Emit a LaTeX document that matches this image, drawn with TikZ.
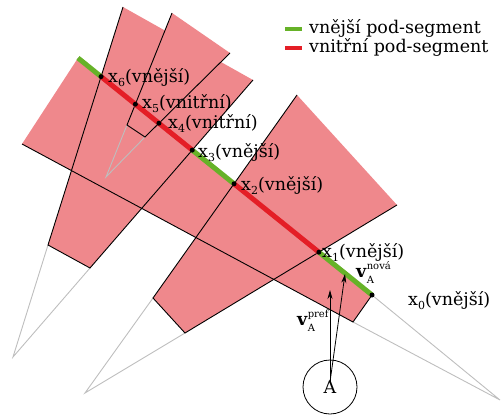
\documentclass[tikz,border=0pt]{standalone}
\usepackage{fontspec}
\setmainfont{DejaVu Serif}
\usetikzlibrary{arrows.meta,calc}
\definecolor{conepink}{RGB}{239,136,140}
\definecolor{segred}{RGB}{228,30,38}
\definecolor{seggreen}{RGB}{102,178,40}
\definecolor{apexgrey}{RGB}{190,190,190}
\newcommand\xsub[2]{x\raisebox{-0.55ex}{\fontsize{11}{11}\selectfont #1}(#2)}
\newcommand\vlab[1]{\textbf{v}\makebox[0pt][l]{\raisebox{0.85ex}{\fontsize{10}{10}\selectfont #1}}\raisebox{-0.7ex}{\fontsize{10}{10}\selectfont A}}
\begin{document}
\begin{tikzpicture}[x=1pt,y=-1pt,
  font=\fontsize{17.5}{21}\selectfont,
  cone/.style={fill=conepink, draw=none},
  side/.style={draw=black, line width=0.9pt, line join=miter},
  ray/.style={draw=apexgrey, line width=0.9pt},
  seg/.style={line width=5pt},
  dot/.style={circle, fill=black, inner sep=0pt, minimum size=5pt},
  lbl/.style={anchor=base west, inner sep=0pt},
  vec/.style={-{Stealth[length=9pt,width=5pt]}, line width=0.8pt}]
\useasboundingbox (0,0) rectangle (501,415);

% cone 1
\coordinate (c1apex) at (500,400);
\coordinate (c1na) at (372,295);
\coordinate (c1nb) at (353,322);
\coordinate (c1fa) at (78,58);
\coordinate (c1fb) at (22,144);
% cone 2
\coordinate (c2apex) at (13,357);
\coordinate (c2na) at (48,245);
\coordinate (c2nb) at (90,268);
\coordinate (c2fa) at (123,7);
\coordinate (c2fb) at (253,80);
% cone 3
\coordinate (c3apex) at (106,177);
\coordinate (c3na) at (127,125);
\coordinate (c3nb) at (145,137);
\coordinate (c3fa) at (172,13);
\coordinate (c3fb) at (230,53);
% cone 4
\coordinate (c4apex) at (85,393);
\coordinate (c4na) at (153,298);
\coordinate (c4nb) at (185,333);
\coordinate (c4fa) at (297,95);
\coordinate (c4fb) at (397,205);

% fills
\fill[conepink] (c1na)--(c1fa)--(c1fb)--(c1nb)--cycle;
\fill[conepink] (c2na)--(c2fa)--(c2fb)--(c2nb)--cycle;
\fill[conepink] (c3na)--(c3fa)--(c3fb)--(c3nb)--cycle;
\fill[conepink] (c4na)--(c4fa)--(c4fb)--(c4nb)--cycle;

% grey rays to apexes
\draw[ray] (c1na)--(c1apex)--(c1nb);
\draw[ray] (c2na)--(c2apex)--(c2nb);
\draw[ray] (c3na)--(c3apex)--(c3nb);
\draw[ray] (c4na)--(c4apex)--(c4nb);

% black sides
\draw[side] (c1fa)--(c1na)--(c1nb)--(c1fb);
\draw[side] (c2fa)--(c2na)--(c2nb)--(c2fb);
\draw[side] (c3fa)--(c3na)--(c3nb)--(c3fb);
\draw[side] (c4fa)--(c4na)--(c4nb)--(c4fb);

% intersection points
\coordinate (x0) at (c1na);
\coordinate (x1) at (intersection of c1fa--c1na and c4nb--c4fb);
\coordinate (x2) at (intersection of c1fa--c1na and c4na--c4fa);
\coordinate (x3) at (intersection of c1fa--c1na and c2nb--c2fb);
\coordinate (x4) at (intersection of c1fa--c1na and c3nb--c3fb);
\coordinate (x5) at (intersection of c1fa--c1na and c3na--c3fa);
\coordinate (x6) at (intersection of c1fa--c1na and c2na--c2fa);

% sub-segments
\draw[seg,seggreen] (c1fa)--(x6);
\draw[seg,segred] (x6)--(x3);
\draw[seg,seggreen] (x3)--(x2);
\draw[seg,segred] (x2)--(x1);
\draw[seg,seggreen] (x1)--(x0);

% dots
\foreach \i in {0,...,6} { \node[dot] (d\i) at (x\i) {}; }

% labels
\node[lbl] (l6) at (108,82) {\xsub{6}{vnější}};
\node[lbl] (l5) at (142,108) {\xsub{5}{vnitřní}};
\node[lbl] (l4) at (168,128) {\xsub{4}{vnitřní}};
\node[lbl] (l3) at (198,157) {\xsub{3}{vnější}};
\node[lbl] (l2) at (241,190) {\xsub{2}{vnější}};
\node[lbl] (l1) at (322,257) {\xsub{1}{vnější}};
\node[lbl] (l0) at (408,305) {\xsub{0}{vnější}};

% agent A and velocities
\node[circle, draw, line width=0.8pt, minimum size=54pt, inner sep=0pt] (A) at (330,387) {\raisebox{-3pt}{A}\hspace{28pt}};
\coordinate (vo) at (330,382);
\coordinate (vpref) at (330,290);
\coordinate (vnova) at (345,274);
\draw[vec] (vo) -- (vpref);
\draw[vec] (vo) -- (vnova);
\node[lbl] (lnova) at (356,277) {\vlab{nová}};
\node[lbl] (lpref) at (297,325) {\vlab{pref}};

% legend
\node[lbl] (leg1) at (309,33) {vnější pod-segment};
\node[lbl] (leg2) at (309,52) {vnitřní pod-segment};
\coordinate (g1a) at (285,29); \coordinate (g1b) at (302,29);
\coordinate (r1a) at (285,48); \coordinate (r1b) at (302,48);
\draw[line width=4.5pt, seggreen] (g1a) -- (g1b);
\draw[line width=4.5pt, segred] (r1a) -- (r1b);
\end{tikzpicture}
\end{document}
